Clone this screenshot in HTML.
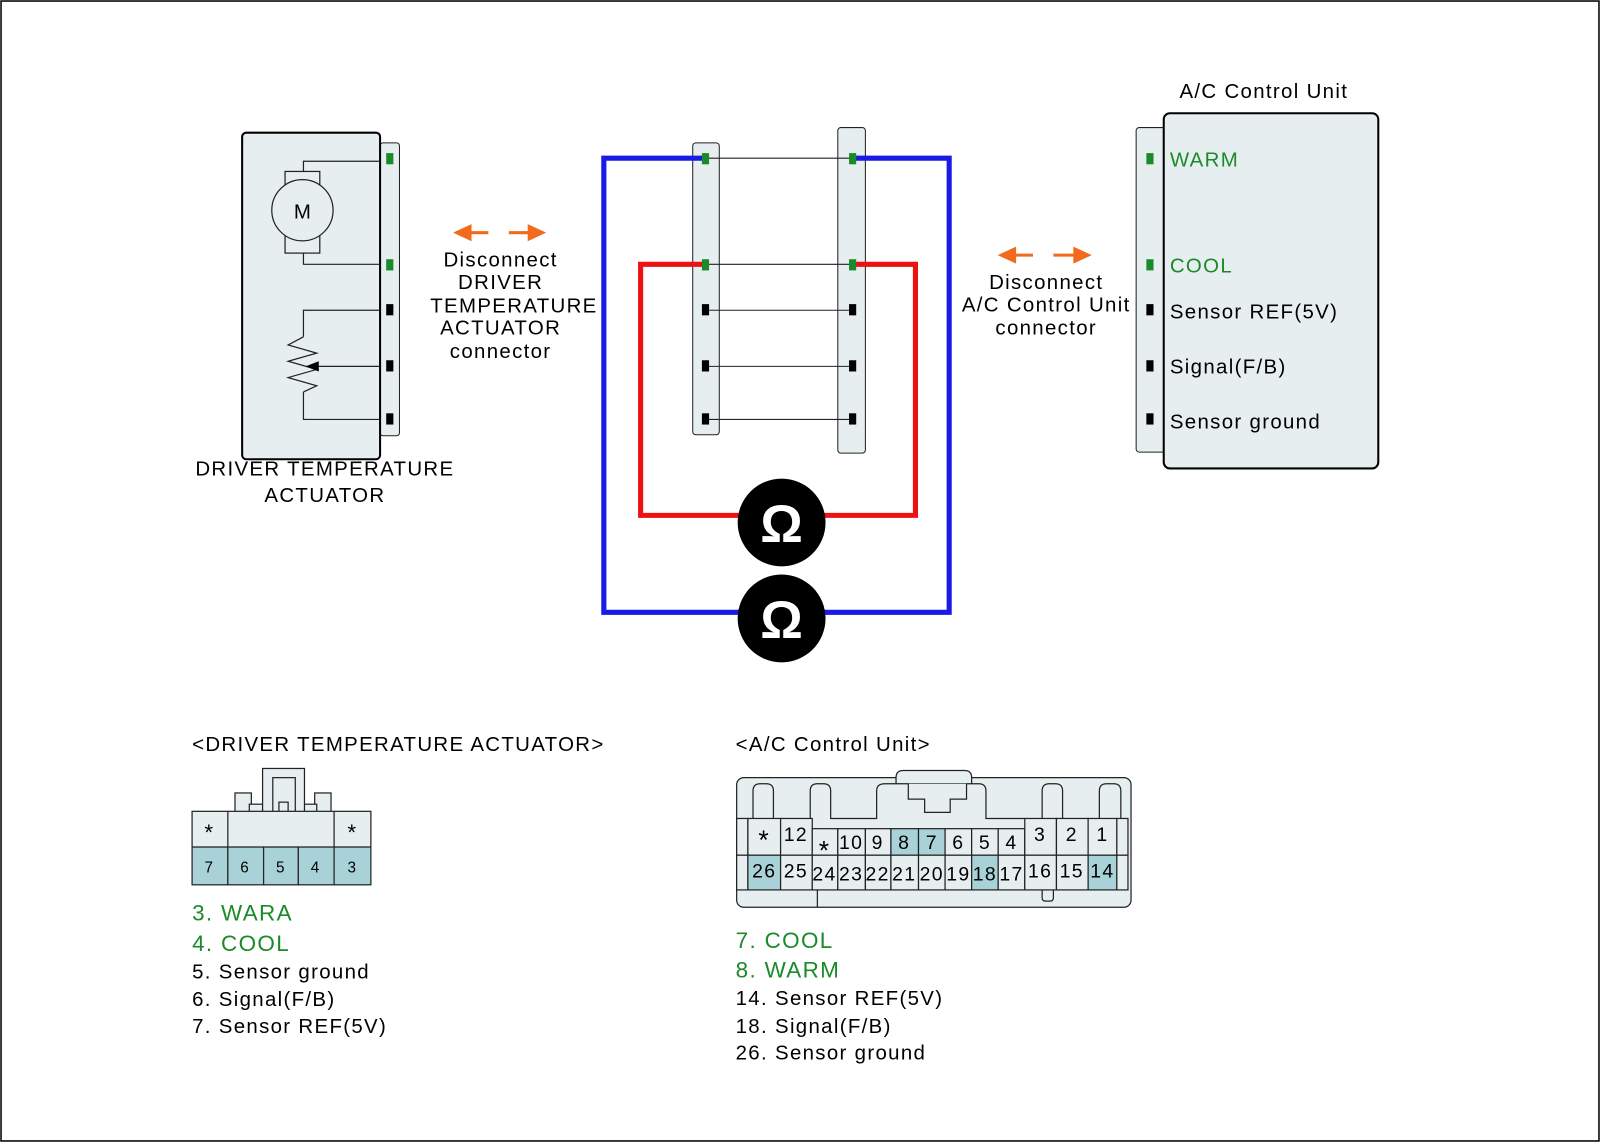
<!DOCTYPE html>
<html><head><style>body{margin:0;background:#fff}svg{display:block}text{letter-spacing:1.3px}</style></head><body>
<svg width="1600" height="1143" viewBox="0 0 1566 1120" preserveAspectRatio="none" xmlns="http://www.w3.org/2000/svg" font-family="Liberation Sans, sans-serif">
<rect x="1" y="1" width="1564" height="1117" fill="#fff" stroke="#000" stroke-width="1.5"/>
<!-- left actuator -->
<rect x="372" y="140" width="19" height="287" rx="3" fill="#e6eeef" stroke="#222" stroke-width="1"/>
<rect x="237" y="130" width="135" height="320" rx="4" fill="#e6eeef" stroke="#000" stroke-width="2"/>
<g fill="none" stroke="#222" stroke-width="1.2">
<path d="M297 176 V158 H372"/><path d="M297 242 V259 H372"/>
<rect x="279" y="168" width="34" height="80" fill="#e6eeef"/>
<circle cx="296" cy="206" r="30" fill="#e6eeef"/>
<path d="M297 330 V304 H372"/><path d="M297 384 V411 H372"/>
<path d="M297 330 L282 338 L310 346 L282 354 L310 362 L282 370 L310 378 L297 384"/>
<path d="M310 359 H372"/>
</g>
<path d="M299 359 L312 354 L312 364 Z" fill="#000"/>
<text x="296" y="214" font-size="20" text-anchor="middle" style="letter-spacing:0">M</text>
<g><rect x="378" y="150" width="7" height="11" fill="#1a8a2a"/><rect x="378" y="254" width="7" height="11" fill="#1a8a2a"/><rect x="378" y="298" width="7" height="11" fill="#000"/><rect x="378" y="353" width="7" height="11" fill="#000"/><rect x="378" y="405" width="7" height="11" fill="#000"/></g>
<text font-size="20" text-anchor="middle"><tspan x="318" y="466">DRIVER TEMPERATURE</tspan><tspan x="318" y="492">ACTUATOR</tspan></text>
<!-- arrows -->
<g stroke="#f26a1b" stroke-width="3" fill="#f26a1b">
<path d="M458 228 H478 M498 228 H520"/><path d="M447 228 L460 222 L460 234Z"/><path d="M531 228 L518 222 L518 234Z"/>
<path d="M991 250 H1011 M1031 250 H1053"/><path d="M980 250 L993 244 L993 256Z"/><path d="M1065 250 L1052 244 L1052 256Z"/>
</g>
<text font-size="20" text-anchor="middle"><tspan x="490" y="261">Disconnect</tspan><tspan x="490" y="283">DRIVER</tspan><tspan x="503" y="306">TEMPERATURE</tspan><tspan x="490" y="328">ACTUATOR</tspan><tspan x="490" y="351">connector</tspan></text>
<text font-size="20" text-anchor="middle"><tspan x="1024" y="283">Disconnect</tspan><tspan x="1024" y="305">A/C Control Unit</tspan><tspan x="1024" y="328">connector</tspan></text>
<!-- middle -->
<rect x="678" y="140" width="26" height="286" rx="3" fill="#e6eeef" stroke="#222"/>
<rect x="820" y="125" width="27" height="319" rx="3" fill="#e6eeef" stroke="#222"/>
<g stroke="#222" stroke-width="1"><path d="M690 155H834M690 259H834M690 304H834M690 359H834M690 411H834"/></g>
<path d="M690 155 H591 V600 H929 V155 H834" fill="none" stroke="#1a1ae6" stroke-width="5"/>
<path d="M690 259 H627 V505 H896 V259 H834" fill="none" stroke="#ee1111" stroke-width="5"/>
<g fill="#1a8a2a"><rect x="687" y="150" width="7" height="11"/><rect x="687" y="254" width="7" height="11"/><rect x="831" y="150" width="7" height="11"/><rect x="831" y="254" width="7" height="11"/></g>
<g fill="#000"><rect x="687" y="298" width="7" height="11"/><rect x="687" y="353" width="7" height="11"/><rect x="687" y="405" width="7" height="11"/><rect x="831" y="298" width="7" height="11"/><rect x="831" y="353" width="7" height="11"/><rect x="831" y="405" width="7" height="11"/></g>
<circle cx="765" cy="512" r="43" fill="#000"/><circle cx="765" cy="606" r="43" fill="#000"/>
<text x="765" y="531" font-size="52" font-weight="bold" fill="#fff" text-anchor="middle" style="letter-spacing:0">Ω</text>
<text x="765" y="625" font-size="52" font-weight="bold" fill="#fff" text-anchor="middle" style="letter-spacing:0">Ω</text>
<!-- right unit -->
<rect x="1112" y="125" width="30" height="318" rx="3" fill="#e6eeef" stroke="#222"/>
<rect x="1139" y="111" width="210" height="348" rx="6" fill="#e6eeef" stroke="#000" stroke-width="2"/>
<text x="1237" y="96" font-size="20" text-anchor="middle">A/C Control Unit</text>
<g fill="#1a8a2a"><rect x="1122" y="150" width="7" height="11"/><rect x="1122" y="254" width="7" height="11"/></g>
<g fill="#000"><rect x="1122" y="298" width="7" height="11"/><rect x="1122" y="353" width="7" height="11"/><rect x="1122" y="405" width="7" height="11"/></g>
<g font-size="20"><text x="1145" y="163" fill="#1a8a2a">WARM</text><text x="1145" y="267" fill="#1a8a2a">COOL</text><text x="1145" y="312">Sensor REF(5V)</text><text x="1145" y="366">Signal(F/B)</text><text x="1145" y="420">Sensor ground</text></g>
<!-- bottom left connector -->
<text x="188" y="736" font-size="20">&lt;DRIVER TEMPERATURE ACTUATOR&gt;</text>
<g fill="#e6eeef" stroke="#222" stroke-width="1.2">
<rect x="230" y="777" width="16" height="20"/><rect x="308" y="777" width="16" height="20"/>
<rect x="244" y="788" width="66" height="8"/>
<rect x="257" y="753" width="41" height="44"/><rect x="267" y="762" width="22" height="35"/><rect x="273" y="786" width="9" height="11"/>
<rect x="188" y="795" width="175" height="35"/>
<path d="M223 795V830M327 795V830"/>
</g>
<g fill="#a9d2d8" stroke="#222" stroke-width="1.2">
<rect x="188" y="830" width="35" height="37"/><rect x="223" y="830" width="35" height="37"/><rect x="258" y="830" width="34" height="37"/><rect x="292" y="830" width="35" height="37"/><rect x="327" y="830" width="36" height="37"/>
</g>
<g font-size="15" text-anchor="middle" style="letter-spacing:0"><text x="205" y="855">7</text><text x="240" y="855">6</text><text x="275" y="855">5</text><text x="309" y="855">4</text><text x="345" y="855">3</text></g>
<g font-size="22" text-anchor="middle" style="letter-spacing:0"><text x="205" y="823">*</text><text x="345" y="823">*</text></g>
<g font-size="22" style="letter-spacing:1.4px"><text x="188" y="902" fill="#1a8a2a">3. WARA</text><text x="188" y="932" fill="#1a8a2a">4. COOL</text></g>
<g font-size="20"><text x="188" y="959">5. Sensor ground</text><text x="188" y="986">6. Signal(F/B)</text><text x="188" y="1012">7. Sensor REF(5V)</text></g>
<!-- bottom right connector -->
<text x="720" y="736" font-size="20">&lt;A/C Control Unit&gt;</text>
<g fill="#e6eeef" stroke="#222" stroke-width="1.2">
<rect x="721" y="762" width="386" height="127" rx="7"/>
<path d="M877 768 V762 Q877 755 884 755 H944 Q951 755 951 762 V768"/>
<path d="M737 802 V775 Q737 768 744 768 H750 Q757 768 757 775 V802"/>
<path d="M793 812 V775 Q793 768 800 768 H806 Q813 768 813 775 V802 H858 V775 Q858 768 866 768 H958 Q965 768 965 775 V802 H1003"/>
<path d="M1020 802 V775 Q1020 768 1027 768 H1033 Q1040 768 1040 775 V802"/>
<path d="M1076 802 V775 Q1076 768 1083 768 H1090 Q1097 768 1097 775 V802"/>
<path d="M889 768 V783 H905 V796 H930 V783 H946 V768"/>
<path d="M800 872 V889 M1020 872 V880 Q1020 883 1024 883 H1027 Q1031 883 1031 880 V872"/>
<rect x="721" y="802" width="11" height="36"/><rect x="721" y="838" width="11" height="34"/>
<rect x="1093" y="802" width="11" height="36"/><rect x="1093" y="838" width="11" height="34"/>
</g>
<g stroke="#222" stroke-width="1.2">
<rect x="732" y="802" width="32" height="36" fill="#e6eeef"/><rect x="764" y="802" width="31" height="36" fill="#e6eeef"/>
<rect x="795" y="812" width="25" height="26" fill="#e6eeef"/><rect x="820" y="812" width="27" height="26" fill="#e6eeef"/><rect x="847" y="812" width="25" height="26" fill="#e6eeef"/>
<rect x="872" y="812" width="27" height="26" fill="#a9d2d8"/><rect x="899" y="812" width="26" height="26" fill="#a9d2d8"/>
<rect x="925" y="812" width="26" height="26" fill="#e6eeef"/><rect x="951" y="812" width="26" height="26" fill="#e6eeef"/><rect x="977" y="812" width="26" height="26" fill="#e6eeef"/>
<rect x="1003" y="802" width="31" height="36" fill="#e6eeef"/><rect x="1034" y="802" width="31" height="36" fill="#e6eeef"/><rect x="1065" y="802" width="28" height="36" fill="#e6eeef"/>
<rect x="732" y="838" width="32" height="34" fill="#a9d2d8"/><rect x="764" y="838" width="31" height="34" fill="#e6eeef"/>
<rect x="795" y="838" width="25" height="34" fill="#e6eeef"/><rect x="820" y="838" width="27" height="34" fill="#e6eeef"/><rect x="847" y="838" width="25" height="34" fill="#e6eeef"/><rect x="872" y="838" width="27" height="34" fill="#e6eeef"/><rect x="899" y="838" width="26" height="34" fill="#e6eeef"/><rect x="925" y="838" width="26" height="34" fill="#e6eeef"/>
<rect x="951" y="838" width="26" height="34" fill="#a9d2d8"/><rect x="977" y="838" width="26" height="34" fill="#e6eeef"/>
<rect x="1003" y="838" width="31" height="34" fill="#e6eeef"/><rect x="1034" y="838" width="31" height="34" fill="#e6eeef"/><rect x="1065" y="838" width="28" height="34" fill="#a9d2d8"/>
</g>
<g font-size="19" text-anchor="middle" style="letter-spacing:0">
<text x="748" y="832" font-size="26">*</text><text x="779" y="824">12</text><text x="807" y="842" font-size="26">*</text><text x="833" y="832">10</text><text x="859" y="832">9</text><text x="885" y="832">8</text><text x="912" y="832">7</text><text x="938" y="832">6</text><text x="964" y="832">5</text><text x="990" y="832">4</text><text x="1018" y="824">3</text><text x="1049" y="824">2</text><text x="1079" y="824">1</text>
<text x="748" y="860">26</text><text x="779" y="860">25</text><text x="807" y="863">24</text><text x="833" y="863">23</text><text x="859" y="863">22</text><text x="885" y="863">21</text><text x="912" y="863">20</text><text x="938" y="863">19</text><text x="964" y="863">18</text><text x="990" y="863">17</text><text x="1018" y="860">16</text><text x="1049" y="860">15</text><text x="1079" y="860">14</text>
</g>
<g font-size="22" style="letter-spacing:1.4px"><text x="720" y="929" fill="#1a8a2a">7. COOL</text><text x="720" y="958" fill="#1a8a2a">8. WARM</text></g>
<g font-size="20"><text x="720" y="985">14. Sensor REF(5V)</text><text x="720" y="1012">18. Signal(F/B)</text><text x="720" y="1038">26. Sensor ground</text></g>
</svg>
</body></html>
